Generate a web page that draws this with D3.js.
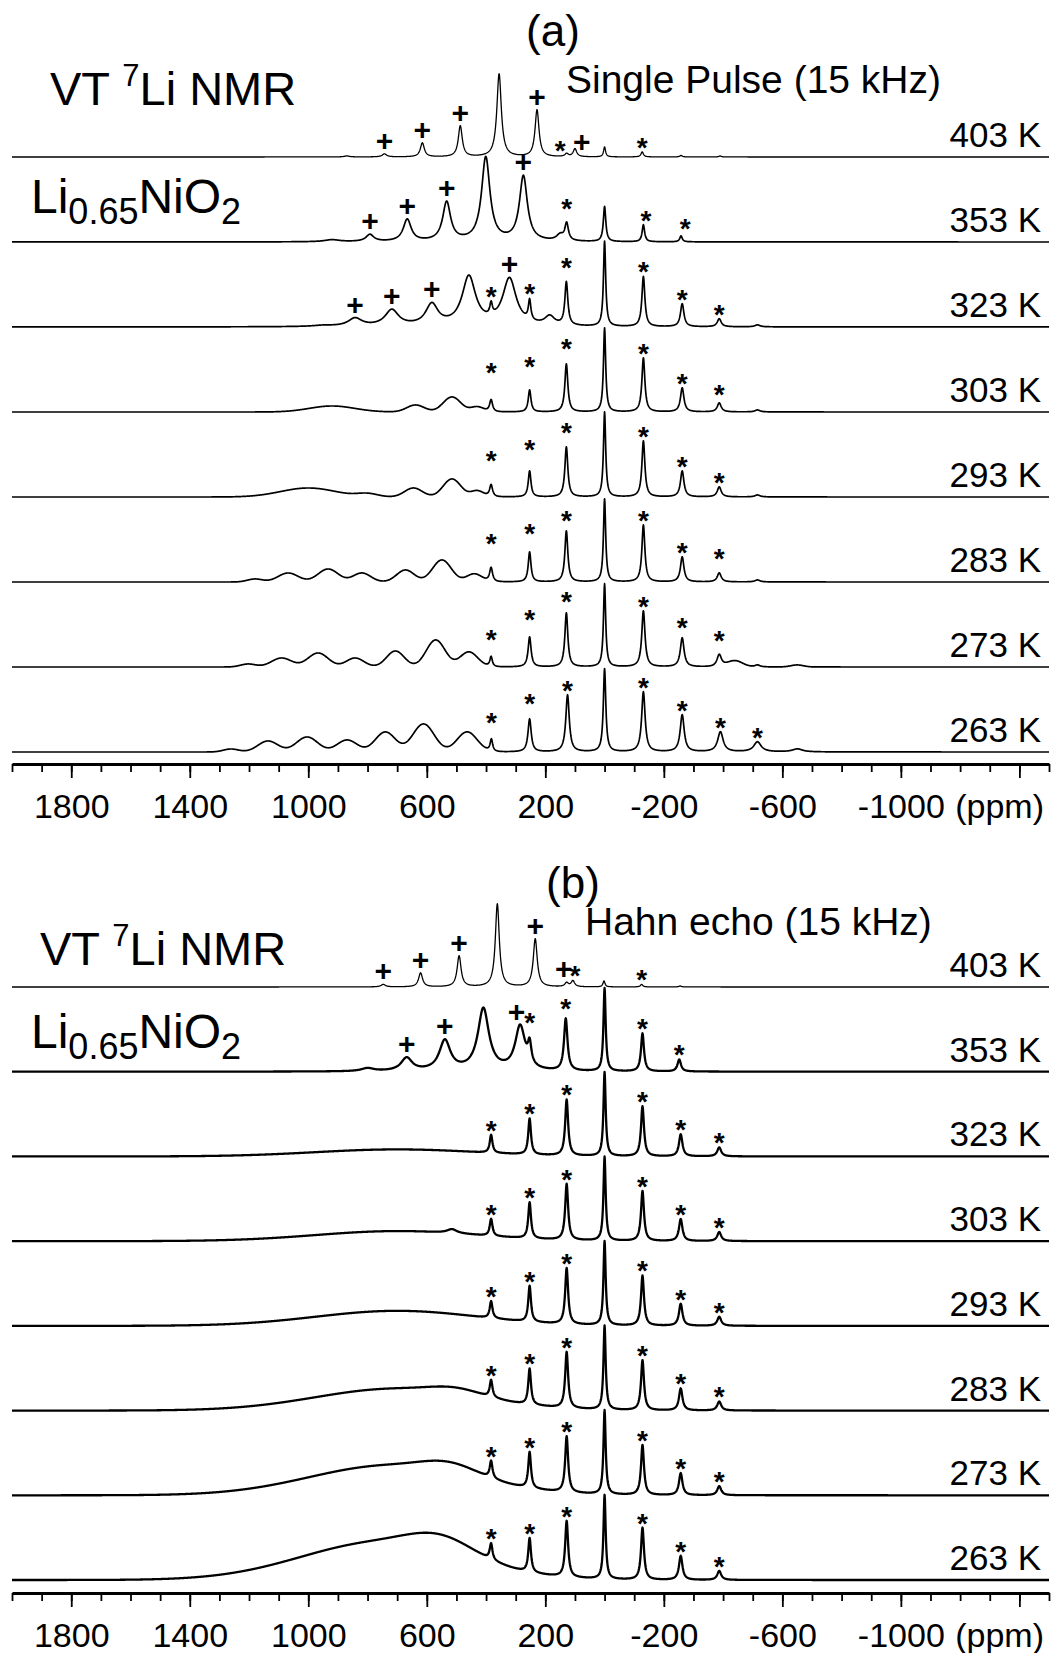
<!DOCTYPE html>
<meta charset="utf-8">
<script src="https://d3js.org/d3.v7.min.js"></script>
<style>
  body { margin: 0; background: #fff; }
  text { font-family: "Liberation Sans", Arial, sans-serif; fill: #000; }
  .spec { fill: none; stroke: #000; stroke-linejoin: round; }
</style>
<body>
<svg id="chart" width="1051" height="1653"></svg>
<script>
// temperature labels (top to bottom)
var temps = ["403 K", "353 K", "323 K", "303 K", "293 K", "283 K", "273 K", "263 K"];

// peaks: [ppm, height, fwhm (ppm)] ; lor = sharp lines, gau = broad humps
// marks: [ppm, symbol, extra lift]
// ---- (a) single pulse ----
var a403Lor = [[870,1,20],[743,3,18],[615,14,16],[487,31,16],[356,83,18],[228,47,16],[128,3,14],[100,8,14],[0,10,8],[-127,5,10],[-258,1.5,10],[-390,1,10]];
var a403Gau = [];
var a403Marks = [[743,"+"],[615,"+"],[487,"+"],[228,"+"],[150,"*"],[77,"+"],[-127,"*"]];

var a353Lor = [[920,2,60],[792,7,32],[666,22,32],[533,39,32],[401,84,34],[274,65,32],[150,6,30],[128,17,14],[0,35,10],[-131,17,10],[-258,6,10]];
var a353Gau = [];
var a353Marks = [[792,"+"],[666,"+"],[533,"+"],[274,"+"],[128,"*",9],[-140,"*"],[-272,"*",5]];

var a323Lor = [[950,1,80],[842,8,55],[718,16,55],[583,21,50],[458,49,55],[383,12,10],[321,47,55],[253,20,10],[185,9,40],[129,43,12],[0,85,9],[-131,50,12],[-262,23,14],[-387,8,16],[-516,2,20]];
var a323Gau = [];
var a323Marks = [[842,"+"],[718,"+"],[583,"+"],[383,"*"],[321,"+"],[253,"*"],[129,"*",9],[-131,"*"],[-262,"*"],[-387,"*"]];

var a303Lor = [[383,12,12],[253,22,11],[129,48,12],[0,84,9],[-131,54,12],[-262,24,14],[-387,9,16],[-516,2,20]];
var a303Gau = [[920,6,180],[638,7,70],[515,15,70],[430,5,50]];
var a303Marks = [[383,"*",22],[253,"*",19],[129,"*",11],[-131,"*"],[-262,"*"],[-387,"*",4]];

var a293Lor = [[383,12,12],[253,26,11],[129,50,12],[0,85,9],[-131,56,12],[-262,26,14],[-387,10,16],[-516,2,20]];
var a293Gau = [[1000,9,220],[800,3,80],[645,9,70],[515,18,70],[430,6,50]];
var a293Marks = [[383,"*",19],[253,"*",17],[129,"*",10],[-131,"*"],[-262,"*"],[-387,"*"]];

var a283Lor = [[383,14,12],[253,30,11],[129,51,12],[0,83,9],[-131,57,12],[-262,25,14],[-387,9,16],[-516,2,20]];
var a283Gau = [[1180,3,60],[1068,9,80],[933,13,80],[819,9,70],[672,12,70],[549,22,75],[440,8,60]];
var a283Marks = [[383,"*",19],[253,"*",14],[129,"*",6],[-131,"*"],[-262,"*"],[-387,"*",10]];

var a273Lor = [[383,10,10],[253,30,12],[129,54,12],[0,83,9],[-131,56,13],[-262,29,15],[-387,12,18],[-516,2,20]];
var a273Gau = [[1203,3,60],[1090,9,80],[967,14,80],[842,9,70],[706,16,70],[570,27,75],[458,15,70],[-440,6,60],[-650,2,50]];
var a273Marks = [[383,"*",12],[253,"*",13],[129,"*",7],[-131,"*"],[-262,"*",6],[-387,"*",9]];

var a263Lor = [[382,12,10],[253,33,13],[125,57,14],[0,83,10],[-131,60,14],[-262,37,16],[-391,20,22],[-516,10,30],[-651,3,40]];
var a263Gau = [[1261,3,60],[1136,11,80],[1004,15,85],[869,12,80],[740,20,80],[611,28,85],[464,20,80]];
var a263Marks = [[382,"*",12],[253,"*",11],[125,"*"],[-131,"*"],[-262,"*"],[-391,"*"],[-516,"*"]];

// ---- (b) Hahn echo ----
var b403Lor = [[747,2.5,18],[621,14,16],[491,31,16],[362,83,16],[234,48,16],[128,4,14],[107,6,14],[2,6,8],[-125,2.5,10],[-255,1,10]];
var b403Gau = [];
var b403Marks = [[747,"+"],[621,"+"],[491,"+"],[234,"+"],[138,"+"],[100,"*"],[-125,"*"]];

var b353Lor = [[800,3,50],[668,13,45],[539,30,45],[409,62,45],[285,44,40],[253,20,14],[131,52,14],[0,83,9],[-128,38,12],[-252,12,14]];
var b353Gau = [];
var b353Marks = [[668,"+"],[539,"+"],[297,"+"],[253,"*",10],[131,"*",5],[-128,"*"],[-252,"*"]];

var b323Lor = [[383,18,11],[253,36,11],[128,56,12],[0,84,9],[-128,50,12],[-257,22,14],[-387,9,16]];
var b323Gau = [[700,7,650]];
var b323Marks = [[383,"*"],[253,"*"],[128,"*"],[-128,"*"],[-257,"*"],[-387,"*"]];

var b303Lor = [[515,4,40],[383,17,11],[253,36,11],[128,56,12],[0,84,9],[-128,50,12],[-257,22,14],[-387,9,16]];
var b303Gau = [[700,10,650]];
var b303Marks = [[383,"*"],[253,"*"],[128,"*"],[-128,"*"],[-257,"*"],[-387,"*"]];

var b293Lor = [[383,17,11],[253,36,11],[128,56,12],[0,84,9],[-128,50,12],[-257,22,14],[-387,9,16]];
var b293Gau = [[700,15,650]];
var b293Marks = [[383,"*"],[253,"*"],[128,"*"],[-128,"*"],[-257,"*"],[-387,"*"]];

var b283Lor = [[383,17,11],[253,36,11],[128,56,12],[0,84,9],[-128,50,12],[-257,22,14],[-387,9,16]];
var b283Gau = [[700,22,650],[500,6,200]];
var b283Marks = [[383,"*"],[253,"*"],[128,"*"],[-128,"*"],[-257,"*"],[-387,"*"]];

var b273Lor = [[383,17,11],[253,36,11],[128,56,12],[0,84,9],[-128,50,12],[-257,22,14],[-387,9,16]];
var b273Gau = [[720,30,650],[520,10,220]];
var b273Marks = [[383,"*"],[253,"*"],[128,"*"],[-128,"*"],[-257,"*"],[-387,"*"]];

var b263Lor = [[383,16,11],[253,34,11],[128,56,12],[0,84,9],[-128,52,12],[-257,24,14],[-387,9,16]];
var b263Gau = [[750,38,650],[550,16,260]];
var b263Marks = [[383,"*"],[253,"*"],[128,"*"],[-128,"*"],[-257,"*"],[-387,"*"]];

var ticksMajor = [1800, 1400, 1000, 600, 200, -200, -600, -1000, -1400];

// build panel tables from the arrays
var panelA = [
  [a403Lor, a403Gau, a403Marks], [a353Lor, a353Gau, a353Marks], [a323Lor, a323Gau, a323Marks],
  [a303Lor, a303Gau, a303Marks], [a293Lor, a293Gau, a293Marks], [a283Lor, a283Gau, a283Marks],
  [a273Lor, a273Gau, a273Marks], [a263Lor, a263Gau, a263Marks]
];
var panelB = [
  [b403Lor, b403Gau, b403Marks], [b353Lor, b353Gau, b353Marks], [b323Lor, b323Gau, b323Marks],
  [b303Lor, b303Gau, b303Marks], [b293Lor, b293Gau, b293Marks], [b283Lor, b283Gau, b283Marks],
  [b273Lor, b273Gau, b273Marks], [b263Lor, b263Gau, b263Marks]
];

var svg = d3.select("#chart");

var x = d3.scaleLinear().domain([2000, -1500]).range([12, 1049]);
var grid = d3.range(2000, -1500.5, -1);

function value(p, lor, gau) {
  var v = 0;
  lor.forEach(function (k) { var u = (p - k[0]) / (k[2] / 2); v += k[1] / (1 + u * u); });
  gau.forEach(function (k) { var u = (p - k[0]) / k[2]; v += k[1] * Math.exp(-4 * Math.LN2 * u * u); });
  return v;
}

function drawPanel(panel, opt) {
  var n = panel.length;
  var step = (opt.bottom - opt.top) / (n - 1);
  // stacked intensity scale, 1 unit = 1 px
  var y = d3.scaleLinear().domain([0, step * (n - 1)]).range([opt.bottom, opt.top]);
  var g = svg.append("g");

  panel.forEach(function (s, i) {
    var off = (n - 1 - i) * step;
    var pts = grid.map(function (p) { return [p, value(p, s[0], s[1])]; });
    var line = d3.line()
      .x(function (d) { return x(d[0]); })
      .y(function (d) { return y(off + d[1]); });
    g.append("path")
      .attr("class", "spec")
      .attr("d", line(pts))
      .attr("stroke-width", i === 0 ? 1.3 : opt.sw);

    // peak marks
    s[2].forEach(function (m) {
      var top = d3.max(d3.range(m[0] - 10, m[0] + 10.5, 1), function (p) { return value(p, s[0], s[1]); });
      var yy = y(off + top) - (m[2] || 0);
      g.append("text")
        .attr("x", x(m[0]))
        .attr("y", m[1] === "+" ? yy - 3 : yy + 5)
        .attr("text-anchor", "middle")
        .attr("font-size", m[1] === "+" ? 30 : 28)
        .attr("font-weight", "bold")
        .text(m[1]);
    });

    g.append("text")
      .attr("x", 1041)
      .attr("y", y(off) - 10)
      .attr("text-anchor", "end")
      .attr("font-size", 35)
      .text(temps[i]);
  });

  // axis
  var ax = svg.append("g").attr("transform", "translate(0," + opt.axisY + ")");
  ax.call(d3.axisBottom(x).tickValues(d3.range(2000, -1500.5, -100)).tickSize(8).tickSizeOuter(0).tickFormat(""));
  ax.append("g").call(d3.axisBottom(x).tickValues(ticksMajor).tickSize(14).tickPadding(16)
      .tickFormat(function (d) { return d === -1400 ? "" : String(d); }))
    .select(".domain").remove();
  ax.selectAll(".domain").attr("stroke-width", 2.8);
  ax.selectAll(".tick line").attr("stroke-width", 1.8);
  ax.selectAll(".tick text").attr("font-size", 34).attr("font-family", "Liberation Sans, Arial, sans-serif");
  ax.append("text").attr("x", 1044).attr("y", 54).attr("text-anchor", "end").attr("font-size", 34).text("(ppm)");

  // titles
  g.append("text").attr("x", opt.letterX).attr("y", opt.top + opt.letterDy).attr("text-anchor", "middle")
    .attr("font-size", 44).text(opt.letter);
  g.append("text").attr("x", opt.subX).attr("y", opt.top + opt.subDy).attr("font-size", 39).text(opt.sub);

  var t1 = g.append("text").attr("x", opt.vtX).attr("y", opt.top + opt.vtDy).attr("font-size", 47);
  t1.append("tspan").text("VT ");
  t1.append("tspan").attr("font-size", 31).attr("dy", -19).text("7");
  t1.append("tspan").attr("dy", 19).text("Li NMR");

  var t2 = g.append("text").attr("x", 31).attr("y", opt.top + opt.liDy).attr("font-size", 48);
  t2.append("tspan").text("Li");
  t2.append("tspan").attr("font-size", 36).attr("dy", 11).text("0.65");
  t2.append("tspan").attr("dy", -11).text("NiO");
  t2.append("tspan").attr("font-size", 36).attr("dy", 11).text("2");
}

drawPanel(panelA, { top: 157, bottom: 752, axisY: 764, sw: 1.7, letter: "(a)", letterX: 553, letterDy: -111,
  sub: "Single Pulse (15 kHz)", subX: 566, subDy: -64, vtX: 50, vtDy: -52, liDy: 56 });
drawPanel(panelB, { top: 987, bottom: 1580, axisY: 1593, sw: 2.3, letter: "(b)", letterX: 573, letterDy: -89,
  sub: "Hahn echo (15 kHz)", subX: 585, subDy: -52, vtX: 40, vtDy: -22, liDy: 61 });
</script>
</body>
